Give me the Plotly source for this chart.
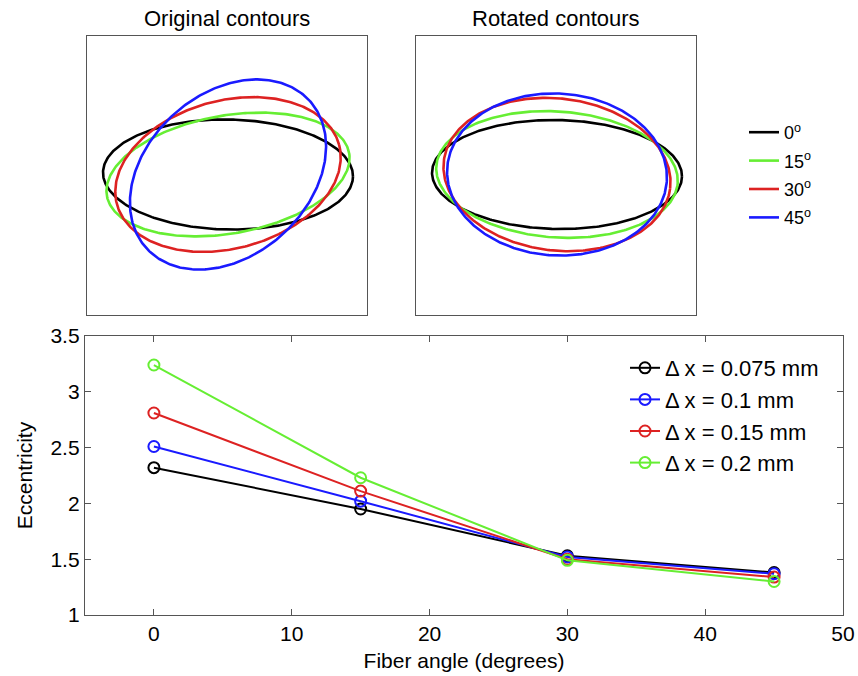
import numpy as np
import plotly.graph_objects as go

# ---------------- data ----------------
# contour ellipses (pixel-like units)
fiber_angles = [0, 15, 30, 45]
contour_labels = ["0<sup>o</sup>", "15<sup>o</sup>", "30<sup>o</sup>", "45<sup>o</sup>"]
contour_colors = ["#000000", "#66ee33", "#dd2222", "#1a1aff"]
# original contours (left panel)
orig_major = [125, 123, 115, 110]
orig_minor = [55, 59, 74, 81]
orig_angle = [-1, 10, 15, 42]
# rotated contours (right panel)
rot_major = [125, 121, 114, 110]
rot_minor = [54.5, 63, 76, 81]
rot_angle = [-1, -4, -7, -3]
center_x = 1.0
center_y = 1.0

# eccentricity vs fiber angle
angles = [0, 15, 30, 45]
series_labels = ["\u0394 x = 0.075 mm", "\u0394 x = 0.1 mm", "\u0394 x = 0.15 mm", "\u0394 x = 0.2 mm"]
series_colors = ["#000000", "#1a1aff", "#dd2222", "#66ee33"]
ecc_0075 = [2.32, 1.95, 1.53, 1.38]
ecc_01 = [2.51, 2.02, 1.52, 1.37]
ecc_015 = [2.81, 2.11, 1.50, 1.34]
ecc_02 = [3.24, 2.23, 1.49, 1.30]
ecc_series = [ecc_0075, ecc_01, ecc_015, ecc_02]

W, H = 858, 676
FONT = "Liberation Sans, Arial, Helvetica, sans-serif"


def ellipse(a, b, deg):
    t = np.linspace(0, 2 * np.pi, 361)
    th = np.deg2rad(deg)
    x = a * np.cos(t)
    y = b * np.sin(t)
    xr = center_x + x * np.cos(th) - y * np.sin(th)
    yr = center_y + x * np.sin(th) + y * np.cos(th)
    return xr, yr


fig = go.Figure()

# left panel: original contours
for i in range(4):
    xs, ys = ellipse(orig_major[i], orig_minor[i], orig_angle[i])
    fig.add_trace(go.Scatter(x=xs, y=ys, mode="lines", name=contour_labels[i],
                             line=dict(color=contour_colors[i], width=2.6),
                             xaxis="x", yaxis="y", legend="legend2",
                             legendgroup="c%d" % i, hoverinfo="skip"))
# right panel: rotated contours
for i in range(4):
    xs, ys = ellipse(rot_major[i], rot_minor[i], rot_angle[i])
    fig.add_trace(go.Scatter(x=xs, y=ys, mode="lines", name=contour_labels[i],
                             line=dict(color=contour_colors[i], width=2.6),
                             xaxis="x2", yaxis="y2", showlegend=False, hoverinfo="skip"))

# bottom panel
for i in range(4):
    fig.add_trace(go.Scatter(x=angles, y=ecc_series[i], mode="lines+markers",
                             name=series_labels[i],
                             line=dict(color=series_colors[i], width=2),
                             marker=dict(symbol="circle-open", size=11,
                                         line=dict(width=2, color=series_colors[i])),
                             xaxis="x3", yaxis="y3", legend="legend"))


def px_x(p):
    return p / W


def px_y(p):
    return 1 - p / H


box_style = dict(showline=True, linecolor="#555555", linewidth=1.3, mirror=True,
                 showgrid=False, zeroline=False, showticklabels=False, ticks="",
                 automargin=False)

fig.update_layout(
    template="none",
    width=W, height=H, autosize=False,
    margin=dict(l=0, r=0, t=0, b=0, pad=0),
    paper_bgcolor="white", plot_bgcolor="white",
    font=dict(family=FONT, color="#000000", size=19),
    xaxis=dict(domain=[px_x(87), px_x(367)], range=[-140, 140], anchor="y", **box_style),
    yaxis=dict(domain=[px_y(315), px_y(36)], range=[-139.5, 139.5], anchor="x", **box_style),
    xaxis2=dict(domain=[px_x(416), px_x(696)], range=[-140, 140], anchor="y2", **box_style),
    yaxis2=dict(domain=[px_y(315), px_y(36)], range=[-139.5, 139.5], anchor="x2", **box_style),
    xaxis3=dict(domain=[px_x(85), px_x(843)], range=[-5, 50], anchor="y3",
                tickvals=[0, 10, 20, 30, 40, 50], ticks="inside", ticklen=6,
                tickcolor="#555555", showline=True, linecolor="#555555", linewidth=1.3,
                mirror="ticks", showgrid=False, zeroline=False, automargin=False,
                tickfont=dict(size=21), ticklabelstandoff=0,
                title=dict(text="Fiber angle (degrees)", font=dict(size=21), standoff=8)),
    yaxis3=dict(domain=[px_y(615), px_y(336)], range=[1, 3.5], anchor="x3",
                tickvals=[1, 1.5, 2, 2.5, 3, 3.5], ticks="inside", ticklen=6,
                tickcolor="#555555", showline=True, linecolor="#555555", linewidth=1.3,
                mirror="ticks", showgrid=False, zeroline=False, automargin=False,
                tickfont=dict(size=21), ticklabelstandoff=0,
                title=dict(text="Eccentricity", font=dict(size=21), standoff=12)),
    legend=dict(x=px_x(625), y=px_y(347), xanchor="left", yanchor="top",
                bgcolor="rgba(0,0,0,0)", font=dict(size=22), tracegroupgap=0,
                itemwidth=30, borderwidth=0),
    legend2=dict(x=px_x(744), y=px_y(114), xanchor="left", yanchor="top",
                 bgcolor="rgba(0,0,0,0)", font=dict(size=18), tracegroupgap=2,
                 itemwidth=30, borderwidth=0),
    annotations=[
        dict(text="Original contours", x=0.5, xref="x domain", y=px_y(19), yref="paper",
             showarrow=False, font=dict(size=22), xanchor="center", yanchor="middle"),
        dict(text="Rotated contours", x=0.5, xref="x2 domain", y=px_y(19), yref="paper",
             showarrow=False, font=dict(size=22), xanchor="center", yanchor="middle"),
    ],
)

fig.write_html("out.html")
